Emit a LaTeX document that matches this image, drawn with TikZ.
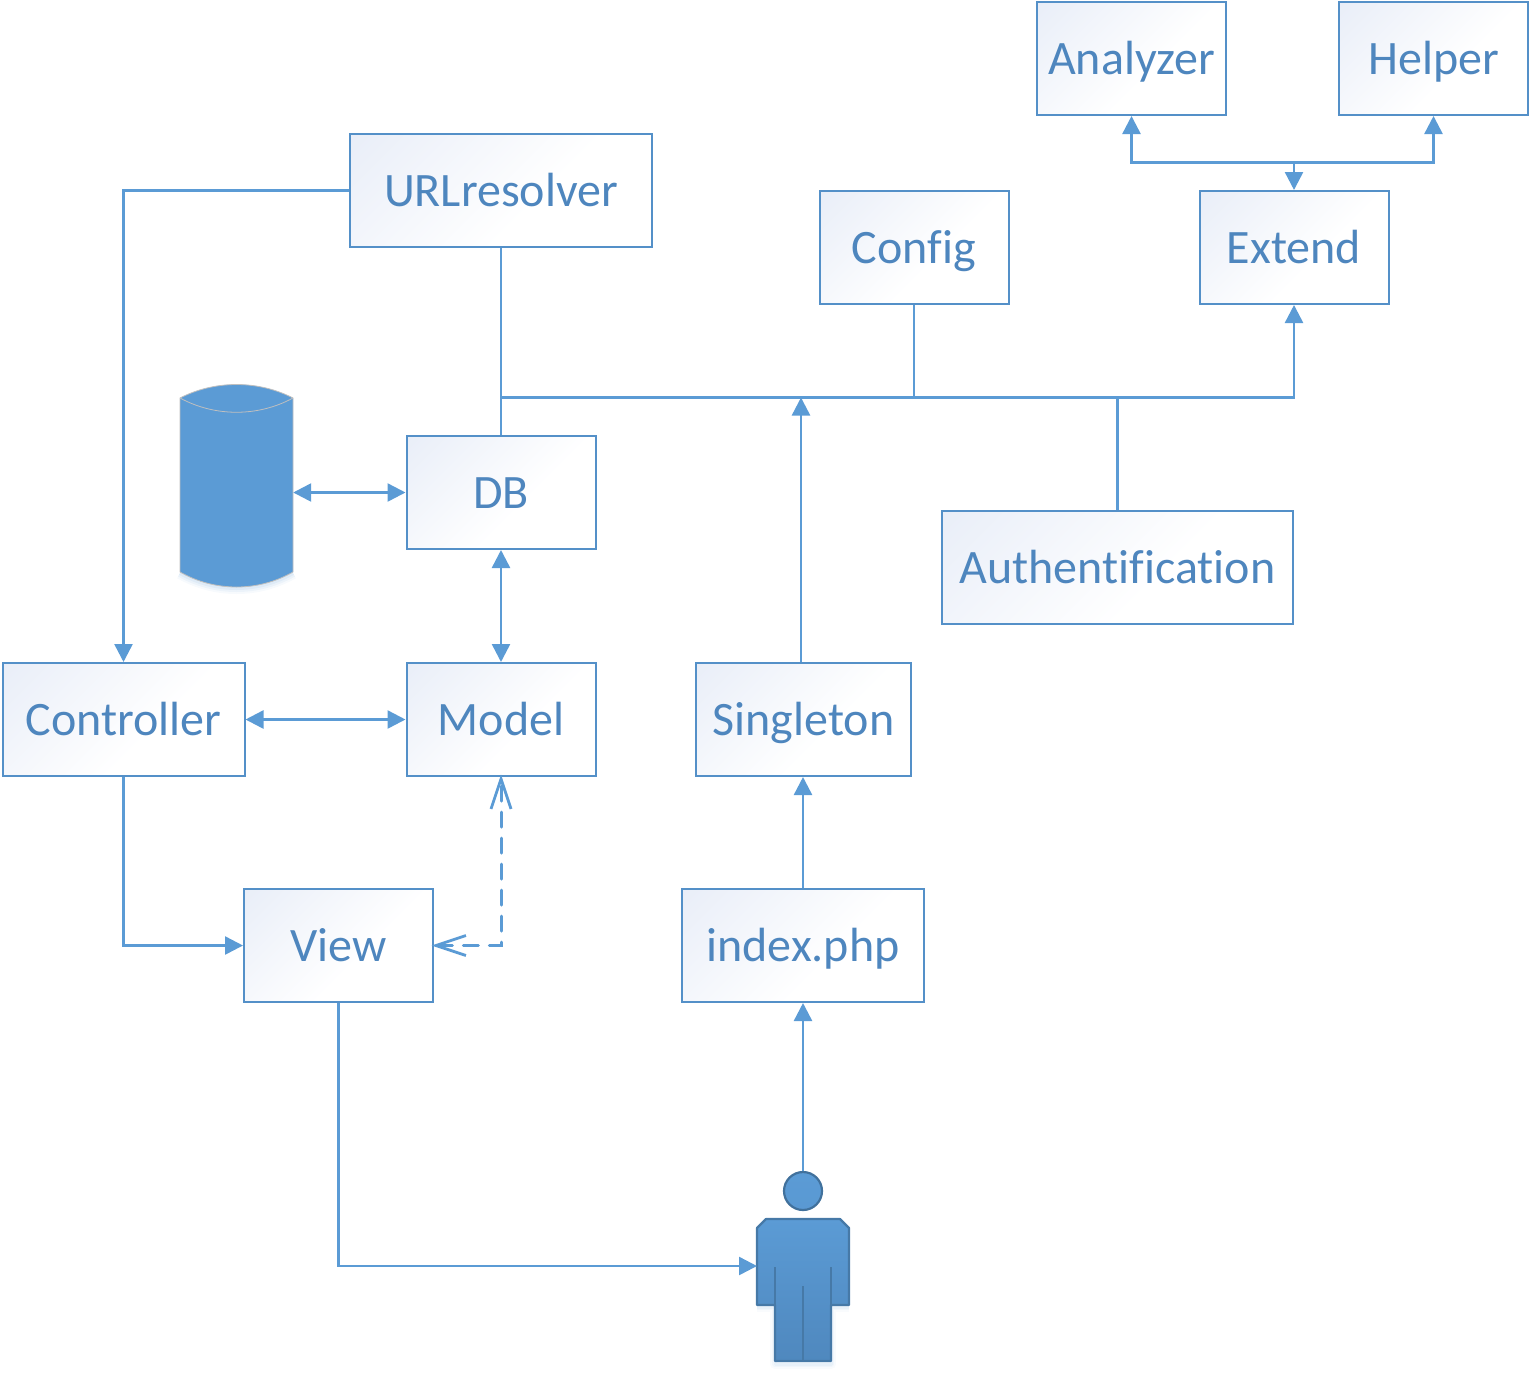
\documentclass[tikz,border=0pt]{standalone}
\usepackage{fontspec}
\setmainfont[Ligatures=NoCommon,Kerning=On]{Carlito}
\usetikzlibrary{arrows.meta}
\definecolor{linec}{HTML}{5B9BD5}
\definecolor{boxline}{HTML}{5490C8}
\definecolor{textc}{HTML}{4E86BE}
\definecolor{tint}{HTML}{E9EEF8}
\definecolor{persontop}{HTML}{5B9BD5}
\definecolor{personbot}{HTML}{4F88BE}
\definecolor{personline}{HTML}{41719C}
\pgfdeclareverticalshading{boxfade}{100bp}{color(0bp)=(white); color(42bp)=(white); color(85bp)=(tint); color(100bp)=(tint)}
\tikzset{
  x=1pt,y=1pt,
  boxn/.style={draw=boxline,line width=2pt,shading=boxfade,shading angle=45,
    inner sep=0pt,minimum height=113pt,text=textc,font=\fontsize{48}{56}\selectfont,
    text height=42pt,text depth=11pt,align=center},
  conn/.style={draw=linec,line width=2.5pt},
  arr/.style={conn,-{Triangle[length=18pt,width=18pt]}},
  darr/.style={conn,{Triangle[length=18pt,width=18pt]}-{Triangle[length=18pt,width=18pt]}},
  dep/.style={draw=linec,line width=3pt,line cap=round,dash pattern=on 15pt off 11pt,
    shorten >=-2.5pt,shorten <=-2.5pt,
    {Straight Barb[length=30pt,width=20pt,line width=2.8pt]}-{Straight Barb[length=30pt,width=20pt,line width=2.8pt]}},
  anchorpt/.style={inner sep=0pt,minimum size=0pt},
}
\begin{document}
\begin{tikzpicture}
\useasboundingbox (0,0) rectangle (1530,-1376);
% cylinder (datastore)
\foreach \w/\o in {12/0.05,8/0.07,4/0.09}{
  \draw[linec,line width=\w pt,opacity=\o,line join=round]
    (180,-573) .. controls (215,-593) and (258,-593) .. (293,-573);
}
\path[fill=linec,draw=black!25,line width=0.8pt]
  (180,-398) .. controls (215,-380) and (258,-380) .. (293,-398)
  -- (293,-572) .. controls (258,-592) and (215,-592) .. (180,-572) -- cycle;
\draw[black!25,line width=0.8pt] (180,-398) .. controls (215,-417) and (258,-417) .. (293,-398);
\node[anchorpt,minimum width=113pt,minimum height=190pt] (store) at (236.5,-485) {};
% person
\foreach \w/\o in {10/0.04,6/0.05,3/0.06}{
  \draw[linec,line width=\w pt,opacity=\o,line join=round]
    (757,-1307) -- (775,-1307) -- (775,-1364) -- (831,-1364) -- (831,-1307) -- (849,-1307);
}
\path[top color=persontop,bottom color=personbot,draw=personline!80!linec,line width=2.2pt,line join=round]
  (766,-1219) -- (840,-1219) -- (849,-1228) -- (849,-1305) -- (831,-1305) -- (831,-1361)
  -- (775,-1361) -- (775,-1305) -- (757,-1305) -- (757,-1228) -- cycle;
\draw[personline!80!linec,line width=2pt] (775,-1267) -- (775,-1361);
\draw[personline!80!linec,line width=2pt] (831,-1267) -- (831,-1361);
\draw[personline!80!linec,line width=2pt] (803,-1286) -- (803,-1361);
\node[circle,draw=personline,line width=2.2pt,top color=persontop,bottom color=persontop!90!personbot,
  minimum size=38pt,inner sep=0pt] (head) at (803,-1191) {};
\coordinate (personport) at (757,-1266);
% boxes
\node[boxn,minimum width=302pt] (url) at (501,-190.5) {URLresolver};
\node[boxn,minimum width=189pt] (analyzer) at (1131.5,-58.5) {Analyzer};
\node[boxn,minimum width=189pt] (helper) at (1433.5,-58.5) {Helper};
\node[boxn,minimum width=189pt] (config) at (914,-247.5) {Config};
\node[boxn,minimum width=189pt] (extend) at (1294,-247.5) {Extend};
\node[boxn,minimum width=189pt] (db) at (501,-492.5) {DB};
\node[boxn,minimum width=351pt] (auth) at (1117.5,-567.5) {Authentification};
\node[boxn,minimum width=242pt] (controller) at (123.5,-719.5) {Controller};
\node[boxn,minimum width=189pt] (model) at (501,-719.5) {Model};
\node[boxn,minimum width=215pt] (singleton) at (803.5,-719.5) {Singleton};
\node[boxn,minimum width=189pt] (view) at (338.5,-945.5) {View};
\node[boxn,minimum width=242pt] (index) at (803,-945.5) {index.php};
% junctions
\coordinate (busw) at (501,-397.5);
\coordinate (busin) at (801,-397.5);
\coordinate (busconfig) at (914,-397.5);
\coordinate (busauth) at (1117.5,-397.5);
\coordinate (extsplit) at (1294,-162.5);
% connectors
\draw[arr] (url.west) -| (controller.north);
\draw[conn] (url.south) -- (db.north);
\draw[arr,line join=miter] (busw) -| (extend.south);
\draw[conn] (config.south) -- (busconfig);
\draw[conn] (auth.north) -- (busauth);
\draw[arr] (busin |- singleton.north) -- (busin);
\draw[darr] (store.east |- db.west) -- (db.west);
\draw[darr] (db.south) -- (model.north);
\draw[darr] (controller.east) -- (model.west);
\draw[arr] (controller.south) |- (view.west);
\draw[dep] (view.east) -| (model.south);
\draw[arr] (view.south) |- (personport);
\draw[arr] (head.north) -- (index.south);
\draw[arr] (index.north) -- (index.north |- singleton.south);
\draw[arr] (extsplit) -- (extend.north);
\draw[arr] (extsplit) -| (analyzer.south);
\draw[arr] (extsplit) -| (helper.south);
\end{tikzpicture}
\end{document}
